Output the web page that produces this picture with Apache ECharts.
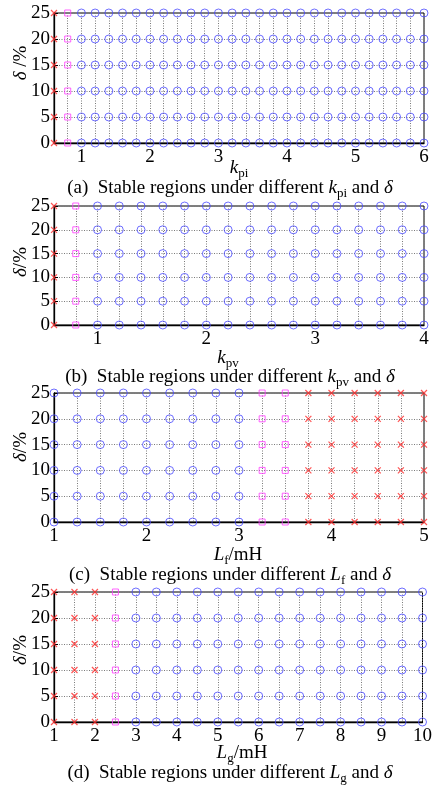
<!DOCTYPE html>
<html>
<head>
<meta charset="utf-8">
<script src="https://cdn.jsdelivr.net/npm/echarts@6/dist/echarts.min.js"></script>
<style>
html,body{margin:0;padding:0;background:#fff;}
#c{width:435px;height:789px;}
</style>
</head>
<body>
<div id="c"></div>
<script>
// ---- data ----
const deltaValues = [0, 5, 10, 15, 20, 25];
const deltaTicks = [0, 5, 10, 15, 20, 25];

// (a) k_pi
const kpiUnstable = [0.6];
const kpiCritical = [0.8];
const kpiStable = [1.0, 1.2, 1.4, 1.6, 1.8, 2.0, 2.2, 2.4, 2.6, 2.8, 3.0, 3.2, 3.4, 3.6, 3.8, 4.0, 4.2, 4.4, 4.6, 4.8, 5.0, 5.2, 5.4, 5.6, 5.8, 6.0];
const kpiTicks = [1, 2, 3, 4, 5, 6];

// (b) k_pv
const kpvUnstable = [0.6];
const kpvCritical = [0.8];
const kpvStable = [1.0, 1.2, 1.4, 1.6, 1.8, 2.0, 2.2, 2.4, 2.6, 2.8, 3.0, 3.2, 3.4, 3.6, 3.8, 4.0];
const kpvTicks = [1, 2, 3, 4];

// (c) L_f
const LfStable = [1.0, 1.25, 1.5, 1.75, 2.0, 2.25, 2.5, 2.75, 3.0];
const LfCritical = [3.25, 3.5];
const LfUnstable = [3.75, 4.0, 4.25, 4.5, 4.75, 5.0];
const LfTicks = [1, 2, 3, 4, 5];

// (d) L_g
const LgUnstable = [1.0, 1.5, 2.0];
const LgCritical = [2.5];
const LgStable = [3.0, 3.5, 4.0, 4.5, 5.0, 5.5, 6.0, 6.5, 7.0, 7.5, 8.0, 8.5, 9.0, 9.5, 10.0];
const LgTicks = [1, 2, 3, 4, 5, 6, 7, 8, 9, 10];

// ---- styling ----
const FONT = '"Liberation Serif", "Times New Roman", serif';
const BLUE = '#4a4aff';
const MAGENTA = '#ff3cff';
const RED = '#ff2a2a';
const GRIDC = '#7a7a7a';

function cross(xs) {
  const out = [];
  xs.forEach(x => deltaValues.forEach(d => out.push([x, d])));
  return out;
}

const panels = [
  { top: 13, height: 130, min: 0.6, max: 6, step: 0.2, ticks: kpiTicks,
    stable: kpiStable, critical: kpiCritical, unstable: kpiUnstable },
  { top: 206, height: 119, min: 0.6, max: 4, step: 0.2, ticks: kpvTicks,
    stable: kpvStable, critical: kpvCritical, unstable: kpvUnstable },
  { top: 393, height: 129, min: 1, max: 5, step: 0.25, ticks: LfTicks,
    stable: LfStable, critical: LfCritical, unstable: LfUnstable },
  { top: 592, height: 130, min: 1, max: 10, step: 0.5, ticks: LgTicks,
    stable: LgStable, critical: LgCritical, unstable: LgUnstable }
];

const grid = [], xAxis = [], yAxis = [], series = [];
panels.forEach((p, i) => {
  grid.push({ left: 54, right: 11, top: p.top, height: p.height, show: true,
    borderColor: '#000', borderWidth: 1, backgroundColor: 'transparent' });
  xAxis.push({
    type: 'value', gridIndex: i, min: p.min, max: p.max, interval: p.step,
    axisLine: { show: true, onZero: false, lineStyle: { color: '#000', width: 1.3 } },
    axisTick: { show: false },
    axisLabel: {
      color: '#000', fontFamily: FONT, fontSize: 19, margin: 5,
      formatter: v => {
        const r = Math.round(v);
        return (Math.abs(v - r) < 1e-6 && p.ticks.indexOf(r) >= 0) ? String(r) : '';
      }
    },
    splitLine: { show: true, lineStyle: { color: GRIDC, width: 1, type: [1, 1.5] } }
  });
  yAxis.push({
    type: 'value', gridIndex: i, min: 0, max: 25, interval: 5,
    axisLine: { show: true, lineStyle: { color: '#000', width: 1.3 } },
    axisTick: { show: true, inside: true, length: 4, lineStyle: { color: '#000' } },
    axisLabel: { color: '#000', fontFamily: FONT, fontSize: 19, margin: 4,
      customValues: deltaTicks },
    splitLine: { show: true, lineStyle: { color: GRIDC, width: 1, type: [1, 1.5] } }
  });
  series.push({
    type: 'scatter', xAxisIndex: i, yAxisIndex: i, clip: false, silent: true,
    symbol: 'circle', symbolSize: 8,
    itemStyle: { color: 'transparent', borderColor: BLUE, borderWidth: 1 },
    data: cross(p.stable), z: 5
  });
  series.push({
    type: 'scatter', xAxisIndex: i, yAxisIndex: i, clip: false, silent: true,
    symbol: 'rect', symbolSize: 6,
    itemStyle: { color: 'transparent', borderColor: MAGENTA, borderWidth: 1 },
    data: cross(p.critical), z: 5
  });
  series.push({
    type: 'scatter', xAxisIndex: i, yAxisIndex: i, clip: false, silent: true,
    symbol: 'path://M0,0L10,10M10,0L0,10', symbolSize: 6,
    itemStyle: { color: 'transparent', borderColor: RED, borderWidth: 1.2 },
    data: cross(p.unstable), z: 6
  });
});

const rich = {
  t: { fontFamily: FONT, fontSize: 19, color: '#000', lineHeight: 22 },
  i: { fontFamily: FONT, fontSize: 19, fontStyle: 'italic', color: '#000', lineHeight: 22 },
  s: { fontFamily: FONT, fontSize: 13, color: '#000', lineHeight: 13, padding: [11, 0, 0, 0] }
};

function txt(x, y, text, rot) {
  return {
    type: 'text', x: x, y: y, rotation: rot || 0, silent: true,
    style: { text: text, rich: rich, align: 'center', verticalAlign: 'middle',
      fontFamily: FONT, fontSize: 19, fill: '#000' }
  };
}

const graphics = [
  txt(21, 63, '{i|δ}{t| /%}', Math.PI / 2),
  txt(21, 262, '{i|δ}{t|/%}', Math.PI / 2),
  txt(21, 447, '{i|δ}{t|/%}', Math.PI / 2),
  txt(21, 650, '{i|δ}{t|/%}', Math.PI / 2),
  txt(239, 168, '{i|k}{s|pi}'),
  txt(228, 358, '{i|k}{s|pv}'),
  txt(238, 555, '{i|L}{s|f}{t|/mH}'),
  txt(242, 753, '{i|L}{s|g}{t|/mH}'),
  txt(230, 188, '{t|(a)  Stable regions under different }{i|k}{s|pi}{t| and }{i|δ}'),
  txt(230, 377, '{t|(b)  Stable regions under different }{i|k}{s|pv}{t| and }{i|δ}'),
  txt(230, 575, '{t|(c)  Stable regions under different }{i|L}{s|f}{t| and }{i|δ}'),
  txt(230, 773, '{t|(d)  Stable regions under different }{i|L}{s|g}{t| and }{i|δ}')
];

const chart = echarts.init(document.getElementById('c'), null, { renderer: 'canvas' });
chart.setOption({
  animation: false,
  backgroundColor: '#fff',
  grid: grid, xAxis: xAxis, yAxis: yAxis, series: series,
  graphic: graphics
});
</script>
</body>
</html>
